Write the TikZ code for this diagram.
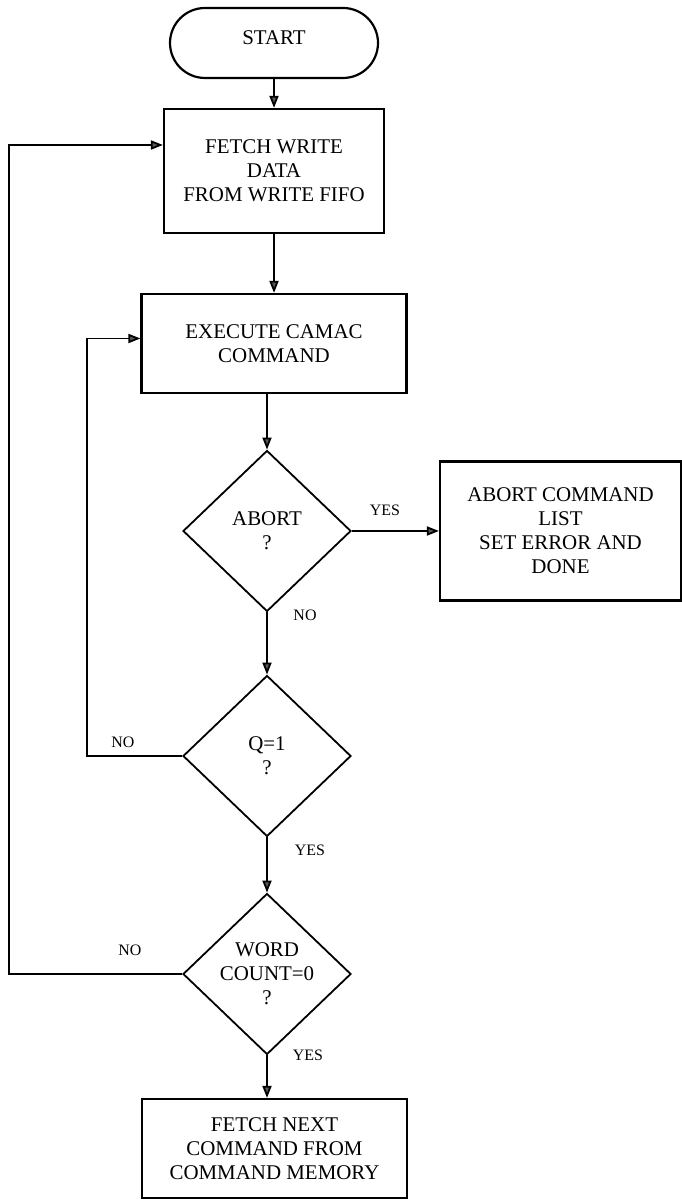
\documentclass[tikz,border=0pt]{standalone}
\usepackage{fontspec}
\setmainfont{Liberation Serif}
\usepackage{tikz}
\usetikzlibrary{arrows.meta,shapes}

\begin{document}
\begin{tikzpicture}[>={Triangle[length=12bp,width=9bp,fill=gray!70!black]},
  box/.style={draw,line width=2.2bp,align=center,inner sep=0pt,font=\fontsize{21}{24}\selectfont},
  test/.style={draw,diamond,line width=1.8bp,align=center,inner sep=0pt,minimum width=168bp,minimum height=161bp,font=\fontsize{21}{24}\selectfont},
  lbl/.style={font=\fontsize{16}{18}\selectfont},
  flow/.style={->,line width=1.8bp}]
%%
\useasboundingbox (0.0bp,0.0bp) rectangle (682.0bp,1200.0bp);
%
  \node (start) at (274.0bp,1157.0bp) [box,rounded corners=35bp,minimum width=208bp,minimum height=70bp] {\raisebox{10bp}{START}};
  \node (fetch) at (274.0bp,1029.0bp) [box,minimum width=220bp,minimum height=124bp] {FETCH WRITE\\DATA\\FROM WRITE FIFO};
  \node (execute) at (274.0bp,856.5bp) [box,minimum width=265bp,minimum height=99bp] {EXECUTE CAMAC\\COMMAND};
  \node (abort) at (267.0bp,669.0bp) [test] {ABORT\\?};
  \node (abortbox) at (560.5bp,669.0bp) [box,minimum width=241bp,minimum height=139bp] {ABORT COMMAND\\LIST\\SET ERROR AND\\DONE};
  \node (qone) at (267.0bp,444.0bp) [test] {Q=1\\?};
  \node (word) at (267.0bp,226.0bp) [test] {WORD\\COUNT=0\\?};
  \node (nextcmd) at (274.5bp,51.5bp) [box,minimum width=265bp,minimum height=99bp] {FETCH NEXT\\COMMAND FROM\\COMMAND MEMORY};
  \coordinate (qturn) at (87.0bp,444.0bp);
  \coordinate (wturn) at (9.0bp,226.0bp);
%
  \node (yesa) at (385.0bp,690.0bp) [lbl] {YES};
  \node (noa) at (305.0bp,585.0bp) [lbl] {NO};
  \node (noq) at (123.0bp,458.0bp) [lbl] {NO};
  \node (yesq) at (310.0bp,350.0bp) [lbl] {YES};
  \node (now) at (130.0bp,250.0bp) [lbl] {NO};
  \node (yesw) at (308.0bp,145.0bp) [lbl] {YES};
%
  \draw [flow] (start) -- (fetch);
  \draw [flow] (fetch) -- (execute);
  \draw [flow] (abort.north |- execute.south) -- (abort);
  \draw [flow] (abort) -- (abortbox);
  \draw [flow] (abort) -- (qone);
  \draw [flow] (qone) -- (word);
  \draw [flow] (word) -- (word |- nextcmd.north);
  \draw [flow] (qone.west) -- (qturn) |- ([yshift=5bp]execute.west);
  \draw [flow] (word.west) -- (wturn) |- ([yshift=26bp]fetch.west);
%
\end{tikzpicture}
\end{document}
